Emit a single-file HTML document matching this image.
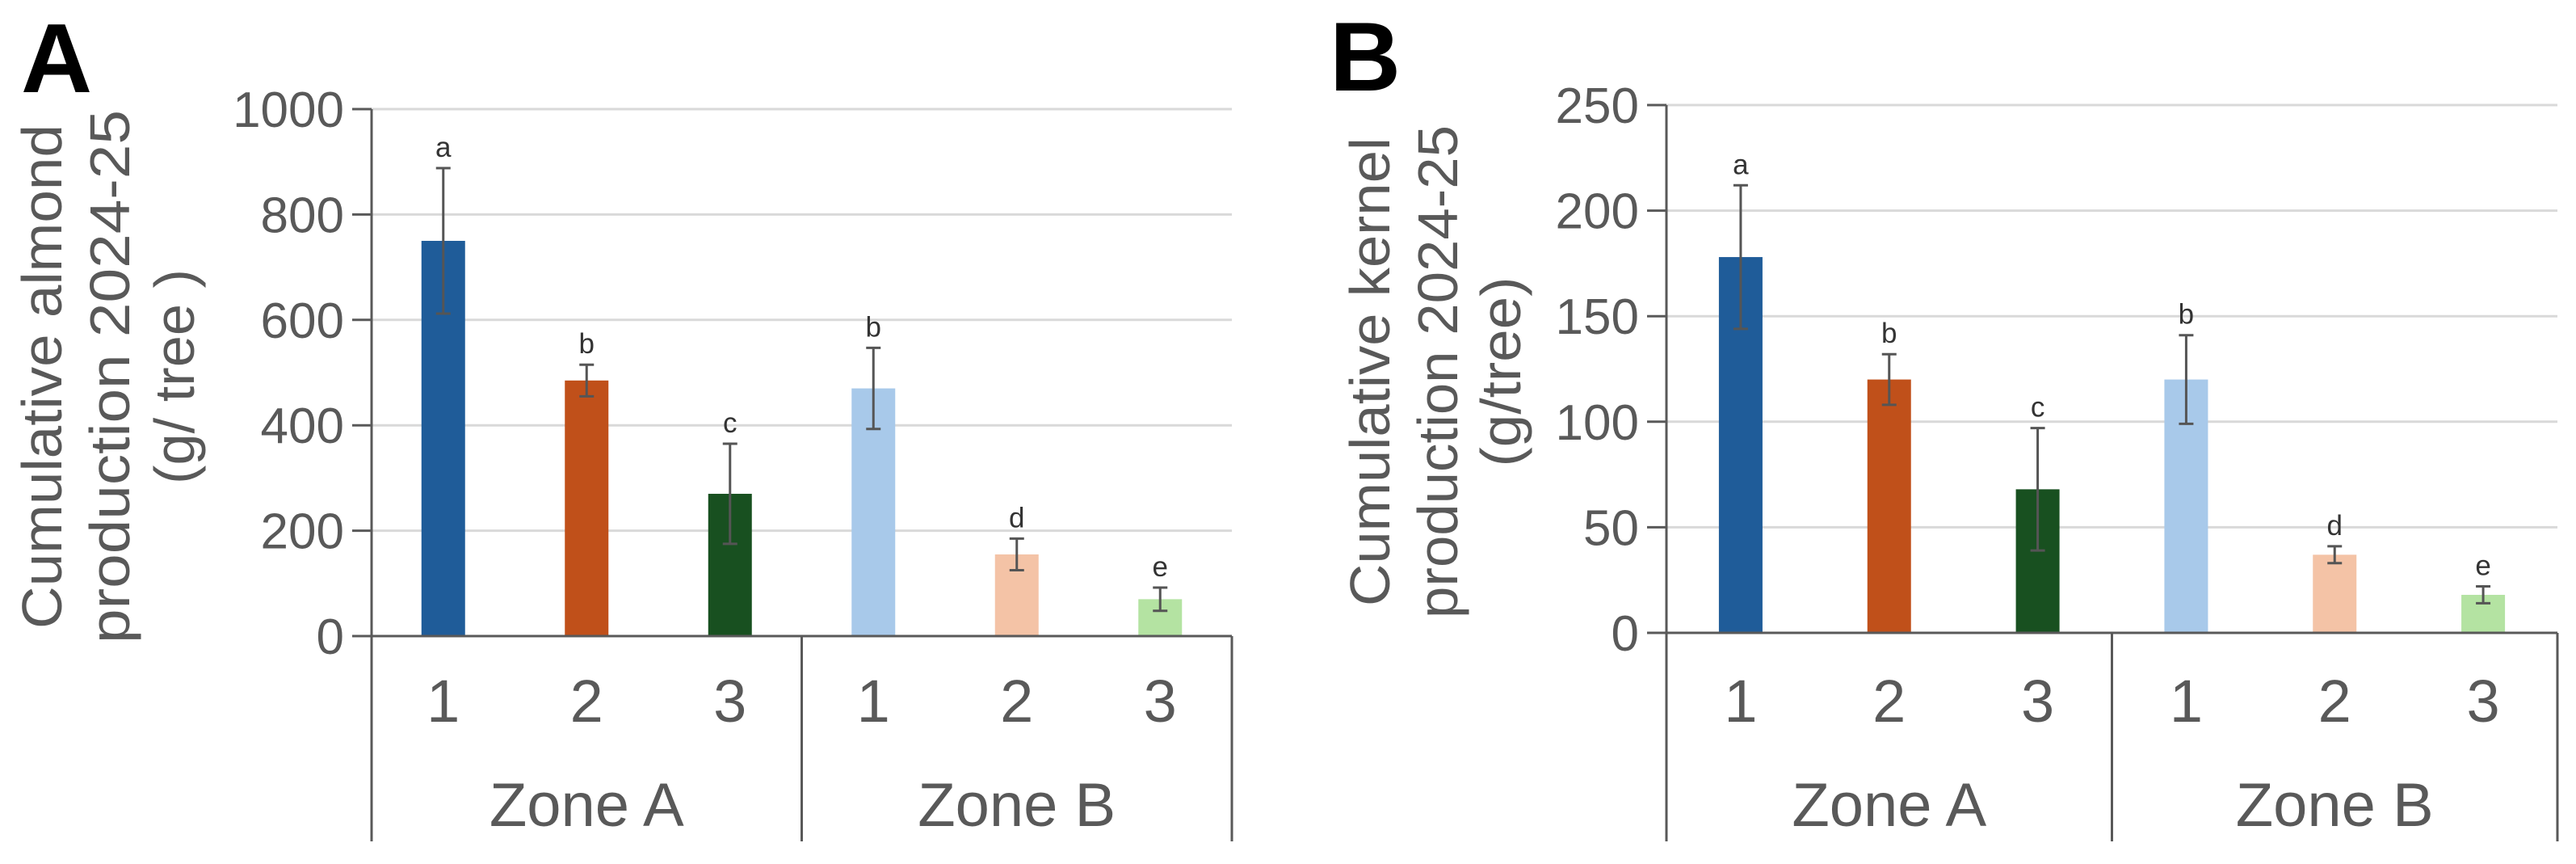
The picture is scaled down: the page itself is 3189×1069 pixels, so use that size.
<!DOCTYPE html>
<html><head><meta charset="utf-8"><style>
html,body{margin:0;padding:0;background:#fff;}
svg{display:block;font-family:"Liberation Sans",Arial,sans-serif;}
</style></head><body>
<svg id="chart" width="3189" height="1069" viewBox="0 0 3189 1069">
<text x="26" y="114" font-size="122" font-weight="bold" fill="#000">A</text>
<text x="1646" y="112" font-size="122" font-weight="bold" fill="#000">B</text>
</svg>
<script>
const categories = ["1","2","3","1","2","3"];
const zones = ["Zone A","Zone B"];
const colors = ["#1f5c99","#c0501a","#185020","#a8c9ea","#f4c3a6","#b4e3a2"];
const valuesA = [750,485,270,470,155,70];
const errorsA = [138,30,95,77,30,22];
const lettersA = ["a","b","c","b","d","e"];
const ticksA = [0,200,400,600,800,1000];
const valuesB = [178,120,68,120,37,18];
const errorsB = [34,12,29,21,4,4];
const lettersB = ["a","b","c","b","d","e"];
const ticksB = [0,50,100,150,200,250];

const NS="http://www.w3.org/2000/svg";
const svg=document.getElementById('chart');
function mk(tag,attrs,parent){const e=document.createElementNS(NS,tag);for(const k in attrs)e.setAttribute(k,attrs[k]);(parent||svg).appendChild(e);return e;}

function panel(id,L,R,T,B0,maxV,ticks,vals,errs,lets,titleLines,titleLens,titleXs,titleY){
  const g=mk('g',{});
  
  
  const y=v=>B0-(v/maxV)*(B0-T);
  const n=categories.length, bw=(R-L)/n;
  const x=i=>L+bw*(i+0.5);
  ticks.forEach(t=>{
    if(t>0){const gl=mk('line',{x1:L,x2:R,y1:y(t),y2:y(t),stroke:'#d9d9d9','stroke-width':3},g);
      
      }
    const tk=mk('line',{x1:L-24,x2:L,y1:y(t),y2:y(t),stroke:'#595959','stroke-width':3},g);
    
    
    const tl=mk('text',{x:L-34,y:y(t)+22,'font-size':62,fill:'#595959','text-anchor':'end'},g);
    tl.textContent=t;
    
    
  });
  vals.forEach((v,i)=>{
    const r=mk('rect',{x:x(i)-27,y:y(v),width:54,height:B0-y(v),fill:colors[i]},g);
    
    
    const top=y(v+errs[i]),bot=y(v-errs[i]);
    const eb=mk('path',{d:`M${x(i)},${top}V${bot}M${x(i)-9},${top}H${x(i)+9}M${x(i)-9},${bot}H${x(i)+9}`,stroke:'#555','stroke-width':3,fill:'none'},g);
    
    
    const lt=mk('text',{x:x(i),y:top-14,'font-size':35,fill:'#333','text-anchor':'middle'},g);
    lt.textContent=lets[i];
    
    
    const cl=mk('text',{x:x(i),y:893,'font-size':74,fill:'#595959','text-anchor':'middle'},g);
    cl.textContent=categories[i];
    
    
  });
  const ax=mk('path',{d:`M${L},${T}V1041M${L},${B0}H${R}M${L+bw*3},${B0}V1041M${R},${B0}V1041`,stroke:'#595959','stroke-width':3,fill:'none'},g);
  
  
  zones.forEach((z,k)=>{
    const zt=mk('text',{x:L+bw*(1.5+3*k),y:1022,'font-size':76,fill:'#595959','text-anchor':'middle'},g);
    zt.textContent=z;
    
    
  });
  titleLines.forEach((s,k)=>{
    const tt=mk('text',{x:0,y:0,'font-size':70,fill:'#595959','text-anchor':'middle',textLength:titleLens[k],lengthAdjust:'spacingAndGlyphs',transform:`translate(${titleXs[k]},${titleY}) rotate(-90)`},g);
    tt.textContent=s;
    
    
  });
}
panel('almond',460,1525,135,787,1000,ticksA,valuesA,errorsA,lettersA,
  ["Cumulative  almond","production  2024-25","(g/ tree )"],[624,660,266],[76,160,240],466);
panel('kernel',2063,3166,130,783,250,ticksB,valuesB,errorsB,lettersB,
  ["Cumulative kernel","production  2024-25","(g/tree)"],[580,610,235],[1720,1804,1882],460);
</script>
</body></html>
